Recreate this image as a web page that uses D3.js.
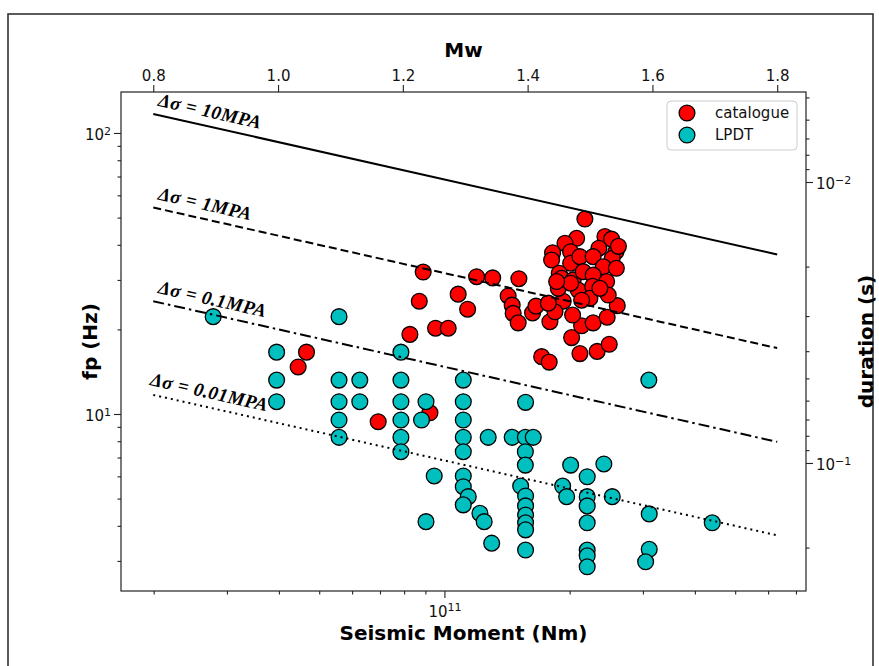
<!DOCTYPE html>
<html><head><meta charset="utf-8">
<script src="https://cdn.jsdelivr.net/npm/d3@7"></script>
<style>body{margin:0;background:#fff;} svg{display:block;}</style>
</head><body>
<svg id="chart" width="879" height="666"></svg>
<script>
// ---------------- data ----------------
// seismic moment in units of 1e10 N·m, peak frequency fp in Hz
const catalogueMoment = [4.66,4.45,6.93,9.23,8.26,8.89,8.70,10.79,11.37,9.52,10.21,11.95,13.06,15.10,14.23,14.55,14.63,15.04,16.29,16.60,17.93,17.13,17.86,20.22,21.17,23.29,24.90,21.37,22.78,20.33,24.62,26.03,19.30,18.44,17.77,21.76,20.79,19.49,18.20,18.10,20.11,20.11,21.17,24.31,25.23,23.51,25.84,25.32,22.78,24.08,18.88,19.13,18.78,20.40,20.97,21.56,22.78,22.71,24.54,24.76,22.37,21.37,20.11,18.61,23.64,26.2,25.9];
const catalogueFp = [16.6,14.7,9.39,10.1,19.2,32.0,25.2,26.7,23.6,20.2,20.2,30.8,30.5,30.3,26.3,24.4,22.8,21.1,22.9,24.2,21.3,16.0,15.3,18.7,16.4,16.7,17.7,20.6,21.1,22.5,22.1,24.3,25.2,23.1,24.8,49.4,42.2,40.5,37.5,35.3,37.8,34.4,36.3,42.8,41.9,38.9,37.8,35.8,36.3,33.4,31.7,30.4,28.0,30.0,27.6,32.1,31.2,28.5,29.6,26.5,25.8,25.4,29.2,29.6,28.0,39.5,33.0];
const lpdtMoment = [2.78,3.95,3.95,3.95,5.58,5.58,5.58,5.58,5.58,6.26,6.26,7.86,7.86,7.86,7.86,7.86,7.86,9.03,8.81,9.45,9.03,11.10,11.10,11.10,11.10,11.10,11.10,11.10,11.41,11.10,12.17,12.46,12.99,12.74,15.67,14.55,15.65,16.35,15.65,15.65,20.11,24.17,22.04,15.25,15.67,15.67,15.67,15.67,15.67,15.67,19.24,19.67,22.04,22.04,22.04,25.32,31.07,44.04,22.04,22.04,22.04,31.07,30.46,31.0];
const lpdtFp = [22.2,16.6,13.2,11.06,22.2,13.2,11.06,9.52,8.26,13.2,11.06,16.6,13.2,11.06,9.52,8.26,7.34,11.06,9.52,6.02,4.14,13.2,11.06,9.52,8.26,7.34,6.02,5.51,5.08,4.75,4.43,4.14,3.47,8.26,11.0,8.26,8.26,8.26,7.34,6.58,6.58,6.64,5.98,5.54,5.11,4.71,4.37,4.10,3.87,3.28,5.54,5.08,5.08,4.71,4.10,5.08,4.41,4.10,3.28,3.13,2.86,3.30,2.98,13.2];
// stress-drop reference lines (Brune), drawn from Mw 0.8 to Mw 1.8
const stressLabels = ["10MPA","1MPA","0.1MPA","0.01MPA"];
const lineMw = [0.8, 1.8];
const stressFpStart = [116.9, 54.3, 25.2, 11.69];
const stressFpEnd = [36.97, 17.16, 7.96, 3.70];
const mwTicks = [0.8, 1.0, 1.2, 1.4, 1.6, 1.8];
const seriesNames = ["catalogue", "LPDT"];

// ---------------- layout ----------------
const L = 121, R = 806, T = 92, B = 591;
const svg = d3.select("#chart");
const mwOf = m => (2/3) * (Math.log10(m) - 9.1);
const momentOf = mw => Math.pow(10, 1.5 * mw + 9.1);

const x = d3.scaleLog().domain([1.669e10, 7.40e11]).range([L, R]);
const y = d3.scaleLog().domain([2.345, 139.9]).range([B, T]);
const xMw = d3.scaleLinear().domain([mwOf(1.669e10), mwOf(7.40e11)]).range([L, R]);
const yDur = d3.scaleLog().domain([0.004783, 0.2855]).range([T, B]);

svg.append("rect").attr("x", 8).attr("y", 14).attr("width", 865).attr("height", 680)
  .attr("fill", "none").attr("stroke", "#333").attr("stroke-width", 1.6);

const isMajor = v => Math.abs(Math.log10(v) - Math.round(Math.log10(v))) < 1e-9;
const inDom = s => v => { const d = s.domain(); const lo = Math.min(d[0], d[1]), hi = Math.max(d[0], d[1]); return v >= lo && v <= hi; };
const tickFont = "'DejaVu Sans', sans-serif";
const axisColor = "#222";

function styleAxis(g) {
  g.attr("font-size", 15).attr("font-family", tickFont);
  g.select(".domain").remove();
  g.selectAll(".tick line").attr("stroke", axisColor).attr("stroke-width", 1.1);
  g.selectAll(".tick text").attr("font-family", tickFont).attr("font-size", 15).attr("fill", "#111");
}
function powLabel(textSel, base, exp) {
  textSel.text(null);
  textSel.append("tspan").text(base);
  textSel.append("tspan").attr("dy", "-0.5em").attr("font-size", 11).text(exp);
}

// bottom axis (seismic moment)
const gx = svg.append("g").attr("transform", `translate(0,${B})`)
  .call(d3.axisBottom(x).tickValues(x.ticks().filter(inDom(x))).tickSize(3.5).tickSizeOuter(0).tickFormat(() => ""));
styleAxis(gx);
gx.selectAll(".tick").filter(d => isMajor(d)).each(function(d) {
  const t = d3.select(this);
  t.select("line").attr("y2", 7);
  const tx = t.select("text").attr("y", 12).attr("dy", "0.9em");
  powLabel(tx, "10", String(Math.round(Math.log10(d))));
});

// left axis (fp)
const gy = svg.append("g").attr("transform", `translate(${L},0)`)
  .call(d3.axisLeft(y).tickValues(y.ticks().filter(inDom(y))).tickSize(3.5).tickSizeOuter(0).tickFormat(() => ""));
styleAxis(gy);
gy.selectAll(".tick").filter(d => isMajor(d)).each(function(d) {
  const t = d3.select(this);
  t.select("line").attr("x2", -7);
  const tx = t.select("text").attr("x", -10).attr("dy", "0.45em");
  powLabel(tx, "10", String(Math.round(Math.log10(d))));
});

// right axis (duration)
const gr = svg.append("g").attr("transform", `translate(${R},0)`)
  .call(d3.axisRight(yDur).tickValues(yDur.ticks().filter(inDom(yDur))).tickSize(3.5).tickSizeOuter(0).tickFormat(() => ""));
styleAxis(gr);
gr.selectAll(".tick").filter(d => isMajor(d)).each(function(d) {
  const t = d3.select(this);
  t.select("line").attr("x2", 7);
  const tx = t.select("text").attr("x", 10).attr("dy", "0.45em");
  powLabel(tx, "10", "\u2212" + String(Math.abs(Math.round(Math.log10(d)))));
});

// top axis (Mw)
const gt = svg.append("g").attr("transform", `translate(0,${T})`)
  .call(d3.axisTop(xMw).tickValues(mwTicks).tickSize(7).tickSizeOuter(0).tickFormat(d3.format(".1f")));
styleAxis(gt);
gt.selectAll(".tick text").attr("y", -11);

// frame
svg.append("rect").attr("x", L).attr("y", T).attr("width", R - L).attr("height", B - T)
  .attr("fill", "none").attr("stroke", axisColor).attr("stroke-width", 1.2);

// axis titles
const titleFont = "'DejaVu Sans', sans-serif";
svg.append("text").attr("x", (L + R) / 2).attr("y", 57).attr("text-anchor", "middle")
  .attr("font-family", titleFont).attr("font-weight", "bold").attr("font-size", 20).text("Mw");
svg.append("text").attr("x", (L + R) / 2).attr("y", 640).attr("text-anchor", "middle")
  .attr("font-family", titleFont).attr("font-weight", "bold").attr("font-size", 20).text("Seismic Moment (Nm)");
svg.append("text").attr("transform", `translate(97,${(T + B) / 2}) rotate(-90)`).attr("text-anchor", "middle")
  .attr("font-family", titleFont).attr("font-weight", "bold").attr("font-size", 20).text("fp (Hz)");
svg.append("text").attr("transform", `translate(873,${(T + B) / 2}) rotate(-90)`).attr("text-anchor", "middle")
  .attr("font-family", titleFont).attr("font-weight", "bold").attr("font-size", 20).text("duration (s)");

// points
svg.append("clipPath").attr("id", "plotclip").append("rect")
  .attr("x", L).attr("y", T).attr("width", R - L).attr("height", B - T);
const plot = svg.append("g").attr("clip-path", "url(#plotclip)");
const red = "#ff0000", cyan = "#00bfbf";
const rPt = 7.9;
const catData = catalogueMoment.map((m, i) => ({ m: m * 1e10, f: catalogueFp[i] }));
const lpdtData = lpdtMoment.map((m, i) => ({ m: m * 1e10, f: lpdtFp[i] }));
plot.append("g").selectAll("circle").data(catData).join("circle")
  .attr("cx", d => x(d.m)).attr("cy", d => y(d.f)).attr("r", rPt)
  .attr("fill", red).attr("stroke", "#000").attr("stroke-width", 1.3);
plot.append("g").selectAll("circle").data(lpdtData).join("circle")
  .attr("cx", d => x(d.m)).attr("cy", d => y(d.f)).attr("r", rPt)
  .attr("fill", cyan).attr("stroke", "#000").attr("stroke-width", 1.3);

// stress drop lines
const dashes = [null, "8,4", "11,4,2.5,4", "2,4"];
const labelDx = [4, 4, 4, -4];
const line = d3.line().x(d => x(d[0])).y(d => y(d[1]));
stressLabels.forEach((lab, i) => {
  const pts = [[momentOf(lineMw[0]), stressFpStart[i]], [momentOf(lineMw[1]), stressFpEnd[i]]];
  const p = plot.append("path").attr("d", line(pts)).attr("fill", "none")
    .attr("stroke", "#000").attr("stroke-width", 2);
  if (dashes[i]) p.attr("stroke-dasharray", dashes[i]);
  const x0 = x(pts[0][0]), y0 = y(pts[0][1]), x1 = x(pts[1][0]), y1 = y(pts[1][1]);
  const ang = Math.atan2(y1 - y0, x1 - x0) * 180 / Math.PI;
  const lx = x0 + labelDx[i];
  const ly = y0 + (y1 - y0) * (labelDx[i] / (x1 - x0)) - 9;
  const t = svg.append("text").attr("transform", `translate(${lx},${ly}) rotate(${ang})`)
    .attr("font-family", "'Liberation Serif', 'DejaVu Serif', serif").attr("font-weight", "bold")
    .attr("font-style", "italic").attr("font-size", 19).attr("letter-spacing", 0.4).attr("fill", "#000")
    .attr("xml:space", "preserve");
  t.append("tspan").text("\u0394\u03c3");
  t.append("tspan").text(" = " + lab);
});

// legend
const lg = svg.append("g");
lg.append("rect").attr("x", 667).attr("y", 101).attr("width", 130).attr("height", 49).attr("rx", 4)
  .attr("fill", "#fff").attr("fill-opacity", 0.85).attr("stroke", "#ccc").attr("stroke-width", 1);
[red, cyan].forEach((c, i) => {
  lg.append("circle").attr("cx", 687).attr("cy", 113 + i * 22).attr("r", rPt)
    .attr("fill", c).attr("stroke", "#000").attr("stroke-width", 1.3);
  lg.append("text").attr("x", 715).attr("y", 113 + i * 22).attr("dy", "0.35em")
    .attr("font-family", tickFont).attr("font-size", 15).attr("fill", "#111").text(seriesNames[i]);
});
</script>
</body></html>
